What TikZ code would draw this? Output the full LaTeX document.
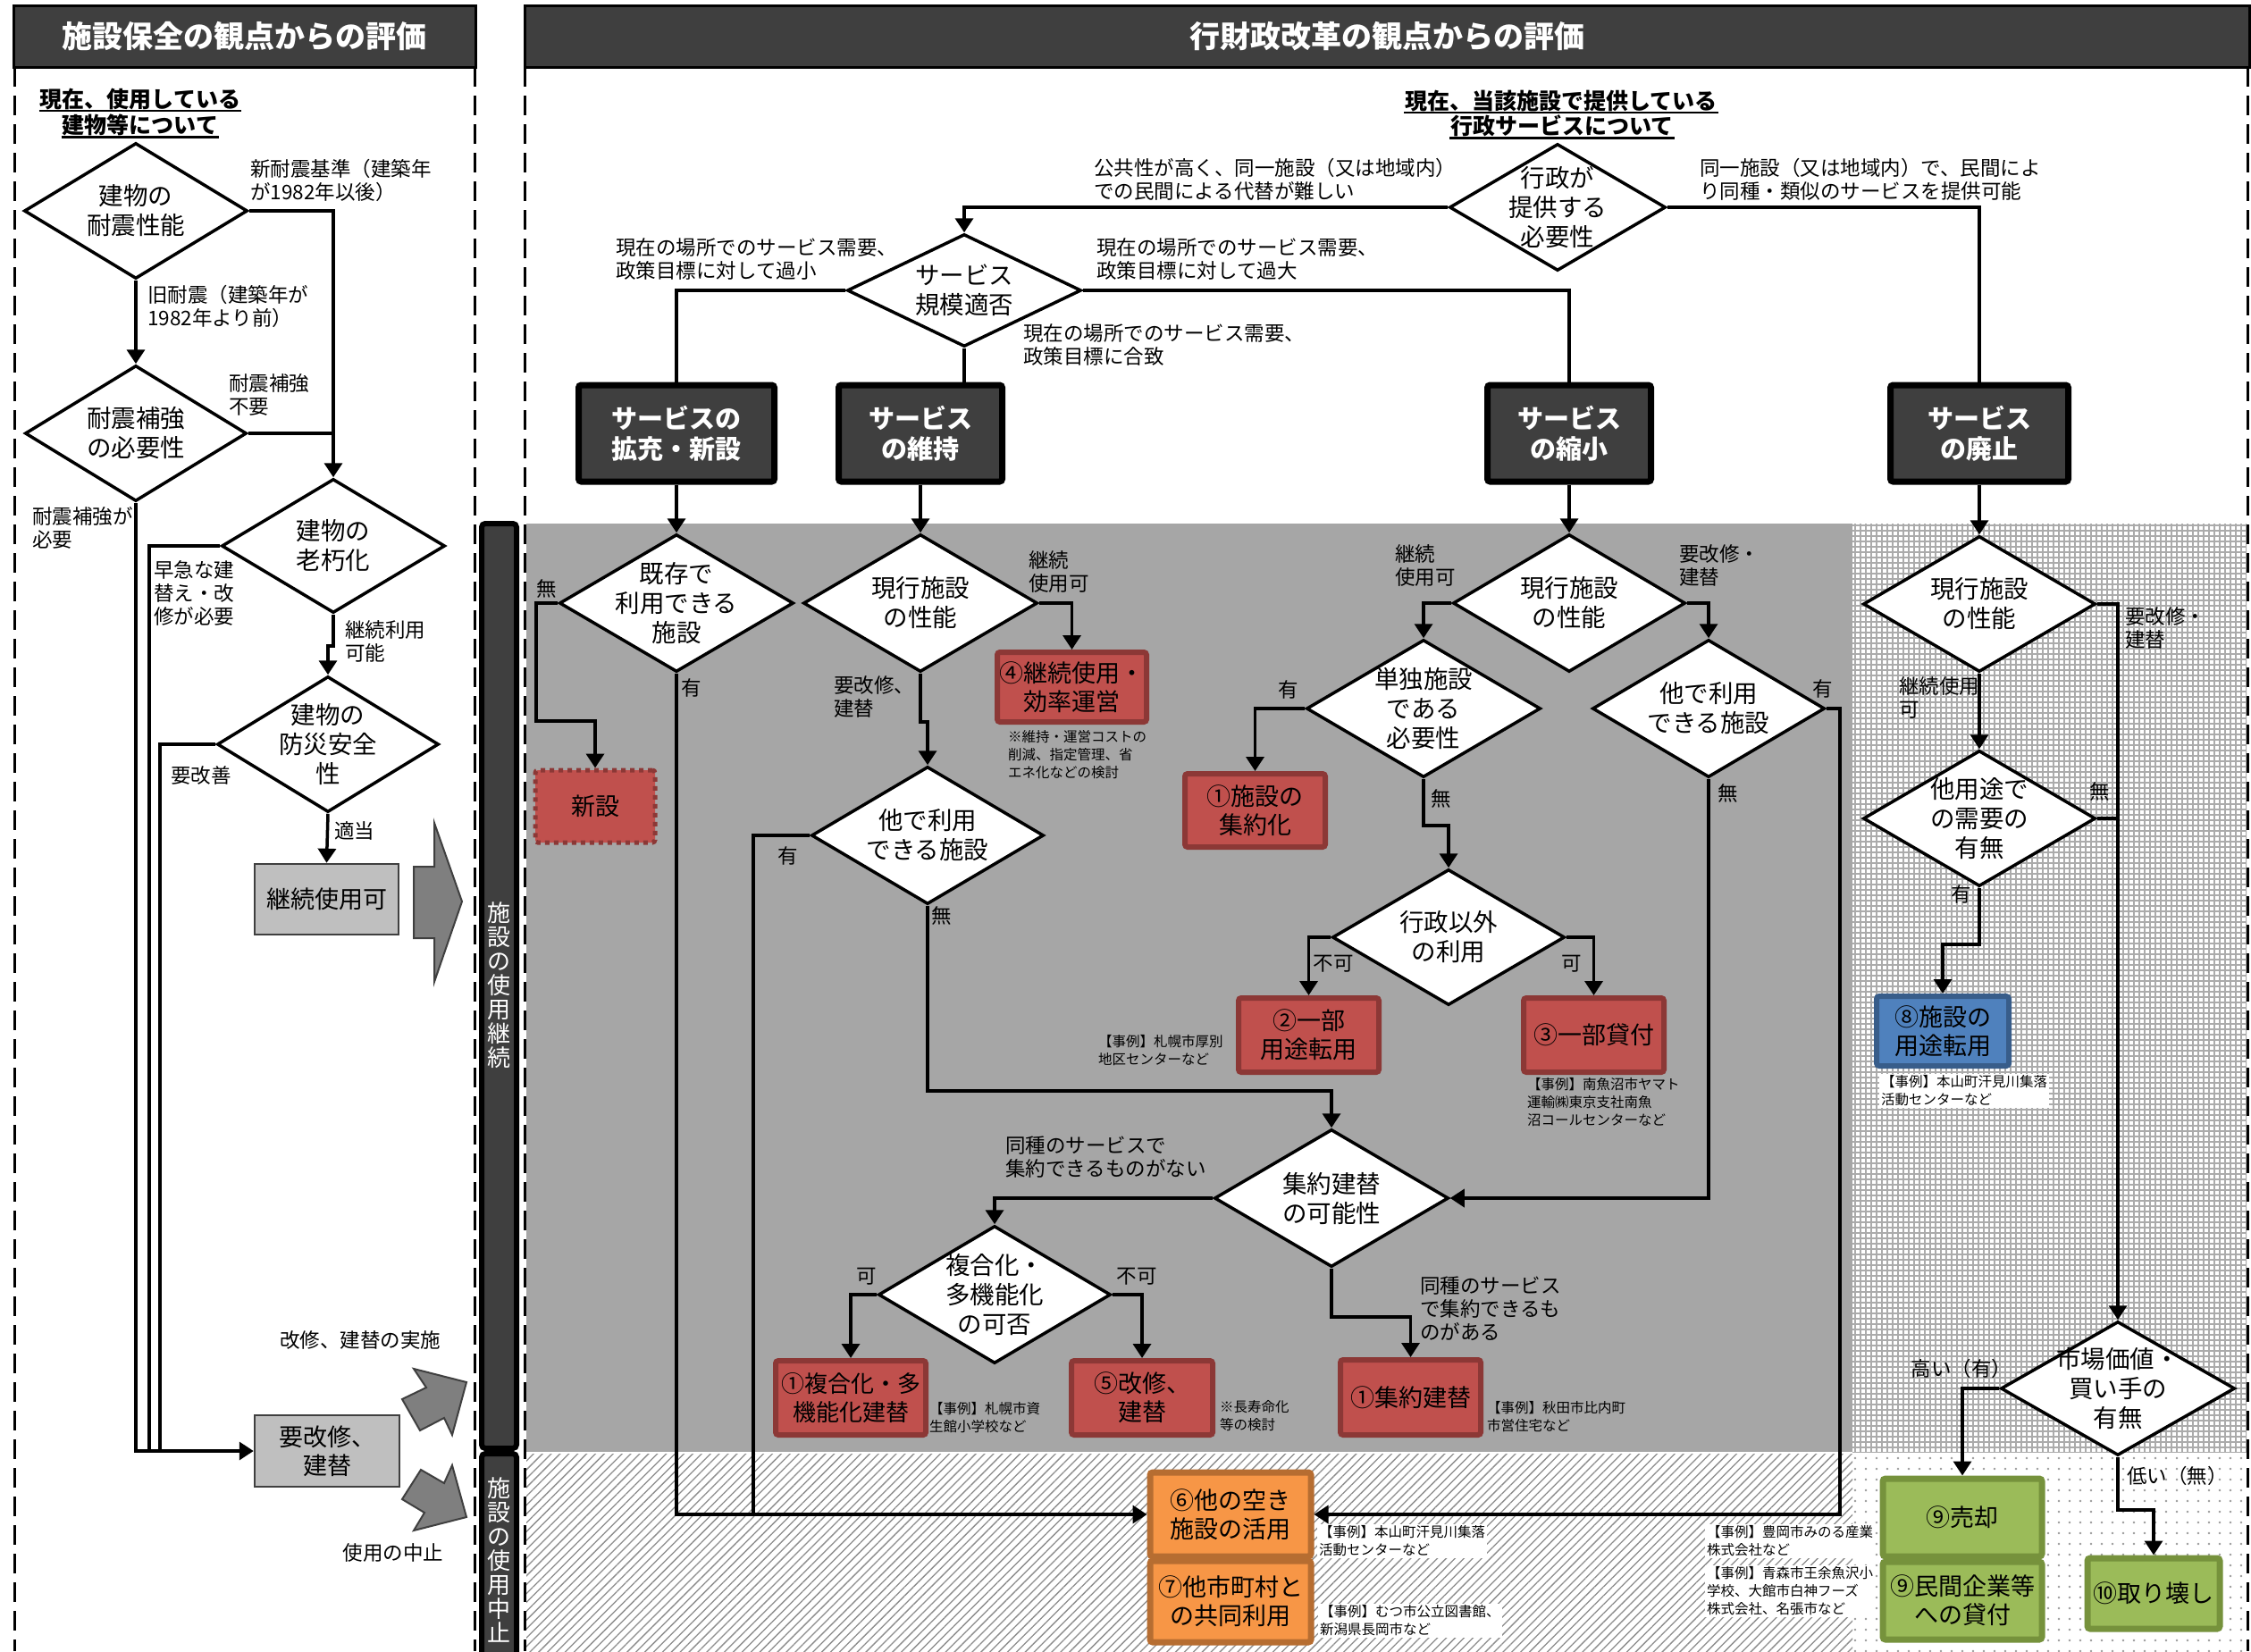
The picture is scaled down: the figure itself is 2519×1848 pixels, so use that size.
\documentclass[tikz,border=0pt]{standalone}
\usepackage{fontspec}
\setmainfont{Noto Sans CJK JP}
\usetikzlibrary{shapes.geometric,arrows.meta,patterns.meta,calc}

\definecolor{hdrc}{HTML}{3F3F3F}
\definecolor{bggray}{HTML}{A6A6A6}
\definecolor{boxgray}{HTML}{BFBFBF}
\definecolor{redF}{HTML}{C0504D}
\definecolor{redB}{HTML}{8C3836}
\definecolor{orF}{HTML}{F79646}
\definecolor{orB}{HTML}{B66D31}
\definecolor{grF}{HTML}{9BBB59}
\definecolor{grB}{HTML}{76923C}
\definecolor{blF}{HTML}{4F81BD}
\definecolor{blB}{HTML}{385D8A}
\definecolor{arrowgray}{HTML}{7F7F7F}
\definecolor{gridc}{HTML}{ABABAB}
\definecolor{hatchc}{HTML}{8C8C8C}
\definecolor{dotc}{HTML}{9A9A9A}

% diamond with its caption laid on top (name, x, y, width, height, text)
\newcommand\dnode[6]{%
  \node[dia, minimum width=#4pt, minimum height=#5pt] (#1) at (#2,#3) {};
  \node[dtxt] at (#1.center) {#6};}

\begin{document}
\begin{tikzpicture}[x=1pt,y=-1pt,
  hdrbox/.style={draw=black, line width=3pt, fill=hdrc, text=white, inner sep=0pt,
    font=\fontsize{34}{40}\selectfont\bfseries},
  dashln/.style={line width=3pt, dash pattern=on 22pt off 10pt},
  dia/.style={diamond, draw=black, fill=white, line width=3.5pt, inner sep=0pt},
  dtxt/.style={align=center, inner sep=0pt, font=\fontsize{27.5}{33}\selectfont},
  ln/.style={line width=3.5pt},
  arr/.style={line width=3.5pt, -{Triangle[width=20pt,length=16pt]}},
  lbl/.style={anchor=west, align=left, inner sep=0pt, font=\fontsize{22.5}{26}\selectfont},
  lblc/.style={anchor=center, align=center, inner sep=0pt, font=\fontsize{22.5}{26}\selectfont},
  ex/.style={anchor=west, align=left, inner sep=1pt, font=\fontsize{15.5}{20}\selectfont},
  exw/.style={ex, fill=white, inner sep=2pt},
  ttl/.style={inner sep=1pt, font=\fontsize{25}{30}\selectfont\bfseries},
  graybox/.style={draw=hdrc, line width=2.5pt, fill=boxgray, align=center, inner sep=0pt,
    font=\fontsize{27}{32}\selectfont},
  dark/.style={draw=black, line width=7pt, fill=hdrc, rounded corners=3pt, text=white,
    align=center, inner sep=0pt, font=\fontsize{29}{34}\selectfont\bfseries},
  res/.style={draw=redB, fill=redF, line width=6pt, rounded corners=3pt, align=center,
    inner sep=0pt, font=\fontsize{27}{32}\selectfont},
  newbox/.style={res, dash pattern=on 5pt off 5pt, line width=5pt},
  orres/.style={res, draw=orB, fill=orF, line width=7pt},
  grres/.style={res, draw=grB, fill=grF, line width=7pt},
  blres/.style={res, draw=blB, fill=blF},
  bar/.style={draw=black, line width=6pt, fill=hdrc, rounded corners=4pt},
  bartxt/.style={text=white, align=center, inner sep=0pt, font=\fontsize{26}{27}\selectfont},
  bigarrow/.style={fill=arrowgray, draw=hdrc, line width=2pt, line join=miter}
]
\useasboundingbox (0,0) rectangle (2519,1848);
\fill[white] (0,0) rectangle (2519,1848);

% ---------- shaded zones of the right panel ----------
\fill[bggray] (589,586) rectangle (2073,1625);
\fill[white] (2073,586) rectangle (2514,1625);
\fill[pattern={Hatch[angle=0,distance=6pt,line width=1.6pt]}, pattern color=gridc]
  (2073,586) rectangle (2514,1625);
\fill[pattern={Lines[angle=45,distance=7pt,line width=1.3pt]}, pattern color=hatchc]
  (589,1627) rectangle (2073,1848);
\fill[pattern={Dots[distance=12pt,radius=1.4pt]}, pattern color=dotc]
  (2073,1627) rectangle (2514,1848);

% ---------- panel headers and borders ----------
\node[hdrbox, minimum width=517pt, minimum height=69pt] (hleft) at (273.5,40.5) {施設保全の観点からの評価};
\node[hdrbox, minimum width=1930pt, minimum height=69pt] (hright) at (1552,40.5) {行財政改革の観点からの評価};
\draw[dashln] (16,75) -- (16,1848);
\draw[dashln] (531,75) -- (531,1848);
\draw[dashln] (587,75) -- (587,1848);
\draw[dashln] (2515,75) -- (2515,1848);

% ---------- vertical status bars ----------
\draw[bar] (539,586) rectangle (578,1621);
\node[bartxt] (tcont) at (558.5,1103) {施\\設\\の\\使\\用\\継\\続};
\draw[bar] (539,1627) rectangle (578,1856);
\node[bartxt] (tstop) at (558.5,1746) {施\\設\\の\\使\\用\\中\\止};

% ---------- left panel: building condition ----------
\node[ttl] (tl1) at (157,111) {現在、使用している};
\node[ttl] (tl2) at (157,140) {建物等について};
\draw[line width=2.5pt] (tl1.south west) -- (tl1.south east);
\draw[line width=2.5pt] (tl2.south west) -- (tl2.south east);

\dnode{d1}{152}{236}{250}{152}{建物の\\耐震性能}
\dnode{d2}{152}{485}{248}{152}{耐震補強\\の必要性}
\dnode{d3}{373}{611}{250}{150}{建物の\\老朽化}
\dnode{d4}{367}{833}{248}{152}{建物の\\防災安全\\性}

\node[graybox, minimum width=161pt, minimum height=79pt] (bkeep) at (365.5,1006.5) {継続使用可};
\node[graybox, minimum width=162pt, minimum height=80pt] (brep) at (366,1624) {要改修、\\建替};

\coordinate (jd3) at (167,1624);
\coordinate (jd4) at (179,1624);
\draw[arr] (d1.east) -| (d3.north);
\draw[arr] (d1.south) -- (d2.north);
\draw[ln] (d2.east) -- (d2.east -| d3.north);
\draw[arr] (d2.south) |- (brep.west);
\draw[ln] (d3.west) -| (jd3);
\draw[ln] (d4.west) -| (jd4);
\draw[arr] (d3.south) -- ++(0,35) -| (d4.north);
\draw[arr] (d4.south) -- (bkeep.north);

\node[lbl] at (280,202) {新耐震基準（建築年\\が1982年以後）};
\node[lbl] at (165,343) {旧耐震（建築年が\\1982年より前）};
\node[lbl] at (256,442) {耐震補強\\不要};
\node[lbl] at (36,591) {耐震補強が\\必要};
\node[lbl] at (172,664) {早急な建\\替え・改\\修が必要};
\node[lbl] at (386,718) {継続利用\\可能};
\node[lbl] at (191,868) {要改善};
\node[lbl] at (374,930) {適当};
\node[lblc] at (403,1500) {改修、建替の実施};
\node[lblc] at (440,1738) {使用の中止};

% block arrows pointing at the status bars
\filldraw[bigarrow] (463,970) -- (486,970) -- (486,921) -- (517,1009) -- (486,1099) -- (486,1050) -- (463,1050) -- cycle;
\filldraw[bigarrow] (450,1566) -- (477,1553) -- (463,1532) -- (522,1547) -- (506,1606) -- (497,1587) -- (470,1601) -- cycle;
\filldraw[bigarrow] (471,1645) -- (497,1660) -- (506,1640) -- (522,1698) -- (463,1713) -- (475,1693) -- (450,1678) -- cycle;

% ---------- right panel: administrative service ----------
\node[ttl] (tr1) at (1747,113) {現在、当該施設で提供している};
\node[ttl] (tr2) at (1748,141) {行政サービスについて};
\draw[line width=2.5pt] (tr1.south west) -- (tr1.south east);
\draw[line width=2.5pt] (tr2.south west) -- (tr2.south east);

\dnode{dgov}{1743}{232}{242}{142}{行政が\\提供する\\必要性}
\dnode{dscale}{1079}{325}{262}{126}{サービス\\規模適否}

\node[dark, minimum width=219pt, minimum height=108pt] (bexp) at (757,485) {サービスの\\拡充・新設};
\node[dark, minimum width=183pt, minimum height=108pt] (bmain) at (1030,485) {サービス\\の維持};
\node[dark, minimum width=183pt, minimum height=108pt] (bshr) at (1756,485) {サービス\\の縮小};
\node[dark, minimum width=199pt, minimum height=108pt] (babo) at (2215,485) {サービス\\の廃止};

\draw[arr] (dgov.west) -| (dscale.north);
\draw[ln] (dgov.east) -| (babo.north);
\draw[ln] (dscale.west) -| (bexp.north);
\draw[ln] (dscale.south) -- (dscale.south |- bmain.north);
\draw[ln] (dscale.east) -| (bshr.north);

\node[lbl] at (1224,201) {公共性が高く、同一施設（又は地域内）\\での民間による代替が難しい};
\node[lbl] at (1902,201) {同一施設（又は地域内）で、民間によ\\り同種・類似のサービスを提供可能};
\node[lbl] at (689,290) {現在の場所でのサービス需要、\\政策目標に対して過小};
\node[lbl] at (1227,290) {現在の場所でのサービス需要、\\政策目標に対して過大};
\node[lbl] at (1145,386) {現在の場所でのサービス需要、\\政策目標に合致};

% decisions inside the shaded zones
\dnode{dexist}{757}{675}{262}{154}{既存で\\利用できる\\施設}
\dnode{dperf1}{1030}{675}{262}{154}{現行施設\\の性能}
\dnode{dother1}{1038}{935}{260}{154}{他で利用\\できる施設}
\dnode{dperf2}{1756}{675}{260}{154}{現行施設\\の性能}
\dnode{dsingle}{1593}{793}{262}{154}{単独施設\\である\\必要性}
\dnode{dother2}{1912}{793}{260}{154}{他で利用\\できる施設}
\dnode{dnongov}{1621}{1049}{260}{152}{行政以外\\の利用}
\dnode{dagg}{1490}{1341}{262}{154}{集約建替\\の可能性}
\dnode{dmulti}{1113}{1449}{260}{154}{複合化・\\多機能化\\の可否}
\dnode{dperf3}{2215}{676}{260}{152}{現行施設\\の性能}
\dnode{ddemand}{2215}{916}{260}{152}{他用途で\\の需要の\\有無}
\dnode{dmarket}{2370}{1554}{262}{150}{市場価値・\\買い手の\\有無}

% outcomes
\node[newbox, minimum width=134pt, minimum height=81pt] (nnew) at (666,902.5) {新設};
\node[res, minimum width=167pt, minimum height=78pt] (n4) at (1199.5,769) {④継続使用・\\効率運営};
\node[res, minimum width=157pt, minimum height=82pt] (n1a) at (1404.5,907) {①施設の\\集約化};
\node[res, minimum width=157pt, minimum height=83pt] (n2) at (1464.5,1158.5) {②一部\\用途転用};
\node[res, minimum width=157pt, minimum height=83pt] (n3) at (1783.5,1158.5) {③一部貸付};
\node[res, minimum width=168pt, minimum height=83pt, font=\fontsize{26}{32}\selectfont] (n1b) at (952,1564.5) {①複合化・多\\機能化建替};
\node[res, minimum width=158pt, minimum height=83pt] (n5) at (1278,1564.5) {⑤改修、\\建替};
\node[res, minimum width=157pt, minimum height=84pt] (n1c) at (1578.5,1564) {①集約建替};
\node[orres, minimum width=180pt, minimum height=94pt] (n6) at (1377,1695) {⑥他の空き\\施設の活用};
\node[orres, minimum width=180pt, minimum height=91pt] (n7) at (1377,1792.5) {⑦他市町村と\\の共同利用};
\node[blres, minimum width=148pt, minimum height=78pt] (n8) at (2174,1154) {⑧施設の\\用途転用};
\node[grres, minimum width=178pt, minimum height=87pt] (n9a) at (2196,1698.5) {⑨売却};
\node[grres, minimum width=178pt, minimum height=87pt] (n9b) at (2196,1791.5) {⑨民間企業等\\への貸付};
\node[grres, minimum width=148pt, minimum height=79pt] (n10) at (2410,1783.5) {⑩取り壊し};

% connectors
\coordinate (jnew) at (600,807);
\coordinate (jo1) at (843,1695);
\coordinate (jagg) at (1038,1221);
\draw[arr] (bexp.south) -- (dexist.north);
\draw[arr] (bmain.south) -- (dperf1.north);
\draw[arr] (bshr.south) -- (dperf2.north);
\draw[arr] (babo.south) -- (dperf3.north);

\draw[arr] (dexist.west) -| (jnew) -| (nnew.north);
\draw[arr] (dexist.south) |- (n6.west);
\draw[arr] (dperf1.east) -| (n4.north);
\draw[arr] (dperf1.south) -- ++(0,54) -| (dother1.north);
\draw[ln] (dother1.west) -| (jo1);
\draw[arr] (dother1.south) -- (jagg) -| (dagg.north);
\draw[arr] (dperf2.west) -| (dsingle.north);
\draw[arr] (dperf2.east) -| (dother2.north);
\draw[arr] (dsingle.west) -| (n1a.north);
\draw[arr] (dsingle.south) -- ++(0,52) -| (dnongov.north);
\draw[arr] (dnongov.west) -| (n2.north);
\draw[arr] (dnongov.east) -| (n3.north);
\draw[arr] (dother2.east) -- ++(15,0) |- (n6.east);
\draw[arr] (dother2.south) |- (dagg.east);
\draw[arr] (dagg.west) -| (dmulti.north);
\draw[arr] (dagg.south) -- ++(0,54) -| (n1c.north);
\draw[arr] (dmulti.west) -| (n1b.north);
\draw[arr] (dmulti.east) -| (n5.north);
\draw[arr] (dperf3.east) -| (dmarket.north);
\draw[arr] (dperf3.south) -- (ddemand.north);
\draw[ln] (ddemand.east) -- (ddemand.east -| dmarket.north);
\draw[arr] (ddemand.south) -- ++(0,63) -| (n8.north);
\draw[arr] (dmarket.west) -| (n9a.north);
\draw[arr] (dmarket.south) -- ++(0,59) -| (n10.north);

% branch labels
\node[lblc] at (612,659) {無};
\node[lblc] at (774,770) {有};
\node[lbl] at (1151,640) {継続\\使用可};
\node[lbl] at (933,780) {要改修、\\建替};
\node[lblc] at (882,958) {有};
\node[lblc] at (1054,1025) {無};
\node[lbl] at (1561,633) {継続\\使用可};
\node[lbl] at (1879,633) {要改修・\\建替};
\node[lblc] at (1442,772) {有};
\node[lblc] at (1613,894) {無};
\node[lblc] at (1492,1079) {不可};
\node[lblc] at (1759,1079) {可};
\node[lblc] at (2040,771) {有};
\node[lblc] at (1934,888) {無};
\node[lbl] at (1125,1295) {同種のサービスで\\集約できるものがない};
\node[lbl] at (1589,1465) {同種のサービス\\で集約できるも\\のがある};
\node[lblc] at (970,1429) {可};
\node[lblc] at (1272,1429) {不可};
\node[lbl] at (2378,703) {要改修・\\建替};
\node[lbl] at (2125,781) {継続使用\\可};
\node[lblc] at (2350,886) {無};
\node[lblc] at (2195,1001) {有};
\node[lblc] at (2195,1532) {高い（有）};
\node[lbl] at (2380,1652) {低い（無）};

% notes and examples
\node[ex] at (1127,845) {※維持・運営コストの\\削減、指定管理、省\\エネ化などの検討};
\node[ex] at (1228,1176) {【事例】札幌市厚別\\地区センターなど};
\node[ex] at (1708,1234) {【事例】南魚沼市ヤマト\\運輸㈱東京支社南魚\\沼コールセンターなど};
\node[ex] at (1039,1587) {【事例】札幌市資\\生館小学校など};
\node[ex] at (1364,1585) {※長寿命化\\等の検討};
\node[ex] at (1663,1586) {【事例】秋田市比内町\\市営住宅など};
\node[exw] at (1474,1725) {【事例】本山町汗見川集落\\活動センターなど};
\node[exw] at (1475,1814) {【事例】むつ市公立図書館、\\新潟県長岡市など};
\node[exw] at (1908,1725) {【事例】豊岡市みのる産業\\株式会社など};
\node[exw] at (1908,1781) {【事例】青森市王余魚沢小\\学校、大館市白神フーズ\\株式会社、名張市など};
\node[exw] at (2103,1221) {【事例】本山町汗見川集落\\活動センターなど};
\end{tikzpicture}
\end{document}
